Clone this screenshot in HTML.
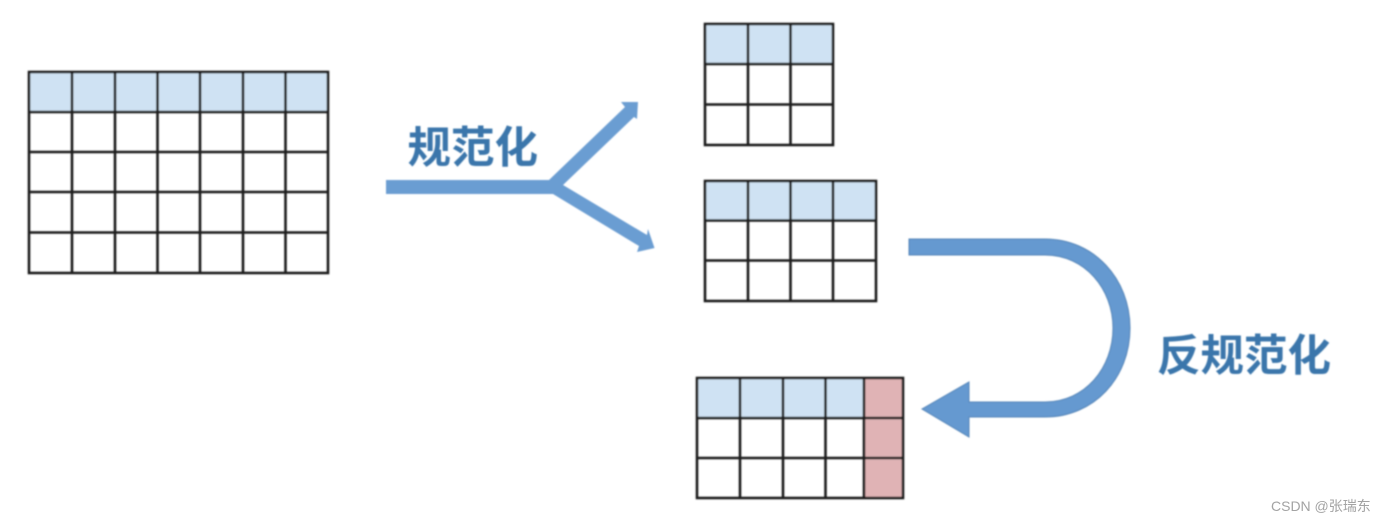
<!DOCTYPE html>
<html>
<head>
<meta charset="utf-8">
<style>
html,body{margin:0;padding:0;background:#fff;width:1386px;height:522px;overflow:hidden}
svg{display:block}
text{font-family:"Liberation Sans","Noto Sans CJK SC",sans-serif}
</style>
</head>
<body>
<svg width="1386" height="522" viewBox="0 0 1386 522" xmlns="http://www.w3.org/2000/svg">
<defs><filter id="b" x="-5%" y="-5%" width="110%" height="110%"><feGaussianBlur stdDeviation="0.7"/></filter></defs>
<g filter="url(#b)">
<!-- Table 1 -->
<rect x="29" y="72" width="299" height="40" fill="#cfe2f3"/>
<g stroke="#1c1c1c" stroke-width="2.600" fill="none">
<rect x="29" y="72" width="299" height="201"/>
<path d="M72 72V273M115 72V273M157.500 72V273M200 72V273M243 72V273M285.500 72V273M29 112H328M29 152H328M29 192H328M29 232.500H328"/>
</g>
<!-- Table 2 -->
<rect x="705" y="24" width="128" height="40" fill="#cfe2f3"/>
<g stroke="#1c1c1c" stroke-width="2.600" fill="none">
<rect x="705" y="24" width="128" height="121"/>
<path d="M748 24V145M790.500 24V145M705 64H833M705 104.500H833"/>
</g>
<!-- Table 3 -->
<rect x="705" y="181" width="171" height="39" fill="#cfe2f3"/>
<g stroke="#1c1c1c" stroke-width="2.600" fill="none">
<rect x="705" y="181" width="171" height="120"/>
<path d="M748 181V301M790.500 181V301M833 181V301M705 220.500H876M705 260.500H876"/>
</g>
<!-- Table 4 -->
<rect x="697" y="378" width="167" height="40" fill="#cfe2f3"/>
<rect x="864" y="378" width="39" height="120" fill="#e0b3b5"/>
<g stroke="#1c1c1c" stroke-width="2.600" fill="none">
<rect x="697" y="378" width="206" height="120"/>
<path d="M740 378V498M783 378V498M825.500 378V498M864 378V498M697 418H903M697 458H903"/>
</g>
<!-- Y arrow -->
<path fill="#6a9dd2" d="M386 180H549L625 107L621 102L638 102L637 119L634 117L563 185L647 235L648 229L654.500 248L637 252L639 246L553 194H386Z"/>
<!-- Curved arrow -->
<path fill="#6599d0" stroke="#5585b8" stroke-width="1" d="M909 239H1045C1094 239 1130 279 1130 328C1130 378 1094 417 1045 417H969V437L922 409L969 382V402H1045C1085 402 1113 368 1113 328C1113 289 1085 255 1045 255H909Z"/>
<!-- Labels -->
<text x="407.500" y="163" font-size="43.500" font-weight="700" fill="#3b76ab">规范化</text>
<text x="1157" y="371" font-size="43.500" font-weight="700" fill="#3b76ab">反规范化</text>
</g>
<text x="1271" y="511" font-size="14" fill="#a3a3a3">CSDN @张瑞东</text>
</svg>
</body>
</html>
